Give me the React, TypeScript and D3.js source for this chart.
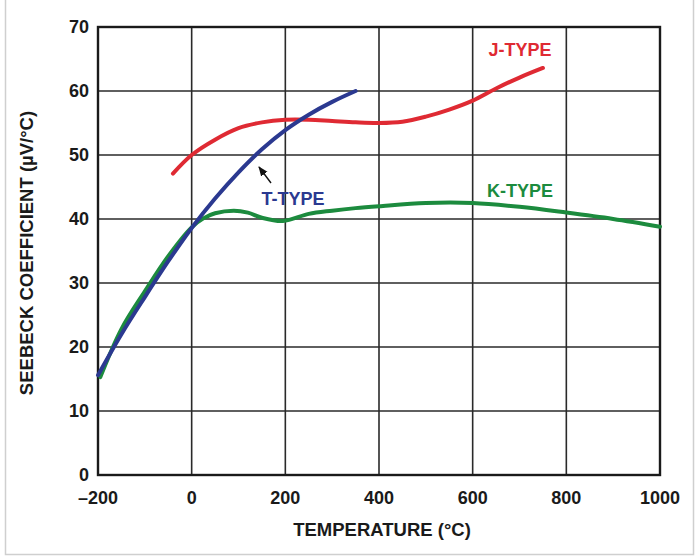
import React from 'react';
import * as d3 from 'd3';

// temperatures (°C) and Seebeck coefficient (µV/°C)
const tTypeTemp = [-200, -150, -100, -50, 0, 50, 100, 150, 200, 250, 300, 350];
const tTypeVal = [15.6, 22, 27.8, 33.4, 38.6, 43.2, 47.3, 50.9, 53.9, 56.3, 58.3, 60];

const jTypeTemp = [-40, 0, 50, 100, 150, 200, 250, 300, 350, 400, 450, 500, 550, 600, 650, 700, 750];
const jTypeVal = [47.1, 50, 52.4, 54.2, 55.1, 55.5, 55.5, 55.3, 55.1, 55, 55.2, 56, 57.1, 58.5, 60.4, 62.1, 63.6];

const kTypeTemp = [-195, -150, -100, -50, 0, 25, 50, 90, 120, 150, 195, 250, 300, 350, 400, 500, 600, 700, 800, 900, 1000];
const kTypeVal = [15.3, 22.8, 28.7, 34.2, 38.7, 40.1, 40.9, 41.3, 41, 40.2, 39.7, 40.8, 41.3, 41.7, 42, 42.5, 42.5, 41.9, 41, 40, 38.8];

const xTicks = [-200, 0, 200, 400, 600, 800, 1000];
const yTicks = [0, 10, 20, 30, 40, 50, 60, 70];

const seriesLabels = ['T-TYPE', 'J-TYPE', 'K-TYPE'];

const W = 700, H = 557;
const left = 98, right = 660, top = 27, bottom = 475;
const FONT = 'Liberation Sans, Arial, sans-serif';

const App = () => {
  const x = d3.scaleLinear().domain([-200, 1000]).range([left, right]);
  const y = d3.scaleLinear().domain([0, 70]).range([bottom, top]);

  const line = d3.line<[number, number]>()
    .x(d => x(d[0]))
    .y(d => y(d[1]))
    .curve(d3.curveCatmullRom.alpha(0.5));

  const zip = (a: number[], b: number[]): [number, number][] => a.map((v, i) => [v, b[i]]);

  const series = [
    { name: seriesLabels[0], data: zip(tTypeTemp, tTypeVal), color: '#2b3990', lx: 293, ly: 205 },
    { name: seriesLabels[1], data: zip(jTypeTemp, jTypeVal), color: '#df2a33', lx: 520, ly: 56 },
    { name: seriesLabels[2], data: zip(kTypeTemp, kTypeVal), color: '#1c8b3e', lx: 520, ly: 197 },
  ];

  // draw order: J, K, T (T on top of K at low temps)
  const drawOrder = [1, 2, 0];

  return (
    <svg width={W} height={H} style={{ position: 'absolute', left: 0, top: 0, background: '#fff' }}>
      <defs>
        <marker id="arr" viewBox="0 0 10 10" refX="9" refY="5" markerWidth="7" markerHeight="7" orient="auto">
          <path d="M0,1 L10,5 L0,9 Z" fill="#111" />
        </marker>
      </defs>
      {/* outer frame */}
      <path d={`M5.5,0 V554.5 H693.5 V0`} fill="none" stroke="#cfcfcf" strokeWidth={1.5} />

      {/* grid */}
      {xTicks.map(t => (
        <line key={'gx' + t} x1={x(t)} x2={x(t)} y1={top} y2={bottom} stroke="#2a2a2a" strokeWidth={1.6} />
      ))}
      {yTicks.map(t => (
        <line key={'gy' + t} x1={left} x2={right} y1={y(t)} y2={y(t)} stroke="#2a2a2a" strokeWidth={1.6} />
      ))}
      <rect x={left} y={top} width={right - left} height={bottom - top} fill="none" stroke="#1a1a1a" strokeWidth={2.4} />

      {/* curves */}
      {drawOrder.map(i => (
        <path key={series[i].name} d={line(series[i].data) || ''} fill="none" stroke={series[i].color}
          strokeWidth={4} strokeLinecap="round" strokeLinejoin="round" />
      ))}

      {/* labels */}
      {series.map(s => (
        <text key={'l' + s.name} x={s.lx} y={s.ly} fill={s.color} fontFamily={FONT} fontWeight="bold"
          fontSize={18} textAnchor="middle">{s.name}</text>
      ))}
      <line x1={271} y1={183} x2={259} y2={167} stroke="#111" strokeWidth={1.4} markerEnd="url(#arr)" />

      {/* y tick labels */}
      {yTicks.map(t => (
        <text key={'ty' + t} x={89} y={y(t)} dy="0.36em" textAnchor="end" fontFamily={FONT}
          fontWeight="bold" fontSize={18} fill="#1a1a1a">{t}</text>
      ))}
      {/* x tick labels */}
      {xTicks.map(t => (
        <text key={'tx' + t} x={x(t)} y={504} textAnchor="middle" fontFamily={FONT}
          fontWeight="bold" fontSize={18} fill="#1a1a1a">{t < 0 ? '–' + Math.abs(t) : t}</text>
      ))}

      <text x={382} y={536} textAnchor="middle" fontFamily={FONT} fontWeight="bold" fontSize={18.5} fill="#1a1a1a">
        TEMPERATURE (°C)
      </text>
      <text transform={`translate(33,253) rotate(-90)`} textAnchor="middle" fontFamily={FONT}
        fontWeight="bold" fontSize={18.5} fill="#1a1a1a">
        SEEBECK COEFFICIENT (µV/°C)
      </text>
    </svg>
  );
};

export default App;
